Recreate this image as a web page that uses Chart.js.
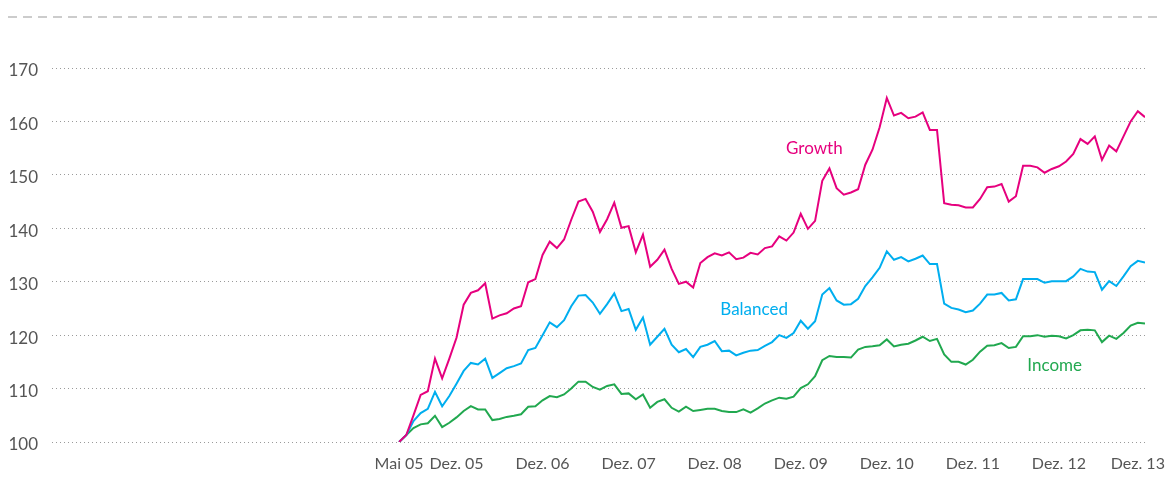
<!DOCTYPE html>
<html>
<head>
<meta charset="utf-8">
<script src="https://cdn.jsdelivr.net/npm/chart.js@4/dist/chart.umd.min.js"></script>
<style>
  html, body { margin: 0; padding: 0; background: #fff; }
  #wrap { position: relative; width: 1166px; height: 493px; }
  #topline {
    position: absolute; left: 8px; top: 16px; width: 1152px; height: 2px;
    background: repeating-linear-gradient(to right, #cccccc 0 9px, transparent 9px 15px);
  }
</style>
</head>
<body>
<div id="wrap">
  <div id="topline"></div>
  <canvas id="lineChart" width="1166" height="493"></canvas>
</div>
<script>
// month-end index values, Apr 05 = 100
var growth = [100, 101.3, 105, 108.8, 109.5, 115.6, 111.9, 115.6, 119.5, 125.7,
  127.9, 128.4, 129.7, 123.1, 123.7, 124.1, 125.0, 125.4, 129.9, 130.5,
  135.0, 137.5, 136.3, 137.9, 141.6, 145.0, 145.5, 143.1, 139.3, 141.7,
  144.8, 140.1, 140.4, 135.5, 138.8, 132.8, 134.1, 136.0, 132.4, 129.6,
  130.0, 128.9, 133.5, 134.6, 135.3, 134.9, 135.5, 134.2, 134.5, 135.4,
  135.1, 136.3, 136.6, 138.5, 137.7, 139.2, 142.7, 139.9, 141.4, 148.9,
  151.2, 147.5, 146.3, 146.7, 147.3, 151.9, 154.7, 158.9, 164.4, 161.1,
  161.6, 160.6, 160.9, 161.7, 158.4, 158.4, 144.7, 144.4, 144.3, 143.9,
  143.9, 145.5, 147.7, 147.8, 148.3, 145.0, 146.0, 151.7, 151.7, 151.4,
  150.4, 151.1, 151.6, 152.5, 153.9, 156.7, 155.8, 157.2, 152.8, 155.5,
  154.4, 157.2, 160.0, 161.9, 160.8];

var balanced = [100, 101.3, 103.9, 105.4, 106.2, 109.4, 106.7, 108.6, 110.9, 113.3,
  114.8, 114.5, 115.6, 112.0, 112.9, 113.8, 114.2, 114.7, 117.2, 117.6,
  120.0, 122.4, 121.5, 122.8, 125.4, 127.4, 127.5, 126.1, 124.0, 125.8,
  127.8, 124.5, 124.9, 121.0, 123.3, 118.2, 119.7, 121.2, 118.2, 116.8,
  117.4, 115.9, 117.8, 118.2, 118.9, 117.0, 117.1, 116.2, 116.7, 117.1,
  117.2, 118.0, 118.7, 120.0, 119.5, 120.4, 122.7, 121.2, 122.6, 127.6,
  128.8, 126.5, 125.7, 125.8, 126.8, 129.2, 130.8, 132.6, 135.7, 134.1,
  134.6, 133.8, 134.3, 134.9, 133.3, 133.3, 125.9, 125.1, 124.8, 124.3,
  124.6, 125.9, 127.6, 127.6, 127.9, 126.5, 126.7, 130.5, 130.5, 130.5,
  129.8, 130.1, 130.1, 130.1, 131.0, 132.4, 131.9, 131.8, 128.5, 130.1,
  129.2, 131.0, 132.9, 133.9, 133.6];

var income = [100, 101.3, 102.6, 103.3, 103.5, 104.9, 102.8, 103.6, 104.6, 105.8,
  106.7, 106.1, 106.1, 104.1, 104.3, 104.7, 104.9, 105.2, 106.6, 106.7,
  107.8, 108.6, 108.4, 108.9, 110.0, 111.3, 111.3, 110.3, 109.8, 110.5,
  110.8, 109.0, 109.1, 108.0, 108.9, 106.4, 107.5, 108.0, 106.4, 105.7,
  106.6, 105.8, 106.0, 106.2, 106.2, 105.8, 105.6, 105.6, 106.1, 105.5,
  106.3, 107.2, 107.8, 108.3, 108.1, 108.5, 110.1, 110.8, 112.3, 115.3,
  116.1, 115.9, 115.9, 115.8, 117.3, 117.8, 117.9, 118.1, 119.2, 117.9,
  118.2, 118.4, 119.0, 119.7, 118.9, 119.3, 116.4, 115.0, 115.0, 114.5,
  115.4, 116.9, 118.0, 118.1, 118.5, 117.6, 117.8, 119.8, 119.8, 120.0,
  119.7, 119.9, 119.8, 119.4, 120.0, 120.9, 121.0, 120.9, 118.7, 119.9,
  119.3, 120.4, 121.8, 122.3, 122.2];

var xTickLabels = ["Mai 05", "Dez. 05", "Dez. 06", "Dez. 07", "Dez. 08",
  "Dez. 09", "Dez. 10", "Dez. 11", "Dez. 12", "Dez. 13"];
var xTickMonths = [0, 8, 20, 32, 44, 56, 68, 80, 92, 103];
var yTicks = [100, 110, 120, 130, 140, 150, 160, 170];

var colGrowth = "#e6007e", colBalanced = "#00aeef", colIncome = "#21a84f";

function toPoints(arr) {
  return arr.map(function(v, i) { return {x: i, y: v}; });
}

// series names written next to the lines
var seriesLabels = {
  id: 'seriesLabels',
  afterDatasetsDraw: function(chart) {
    var ctx = chart.ctx, xs = chart.scales.x, ys = chart.scales.y;
    var items = [
      {text: "Growth", x: 57.9, y: 155.0, color: colGrowth},
      {text: "Balanced", x: 49.5, y: 124.8, color: colBalanced},
      {text: "Income", x: 91.4, y: 114.4, color: colIncome}
    ];
    ctx.save();
    ctx.font = "17px Lato";
    ctx.textAlign = "center";
    ctx.textBaseline = "middle";
    items.forEach(function(it) {
      ctx.fillStyle = it.color;
      ctx.fillText(it.text, xs.getPixelForValue(it.x), ys.getPixelForValue(it.y));
    });
    ctx.restore();
  }
};

var ctx = document.getElementById("lineChart");
var lineChart = new Chart(ctx, {
  type: 'line',
  data: {
    datasets: [{
      label: "Growth",
      data: toPoints(growth),
      borderColor: colGrowth,
      borderWidth: 2,
      pointRadius: 0,
      tension: 0
    }, {
      label: "Balanced",
      data: toPoints(balanced),
      borderColor: colBalanced,
      borderWidth: 2,
      pointRadius: 0,
      tension: 0
    }, {
      label: "Income",
      data: toPoints(income),
      borderColor: colIncome,
      borderWidth: 2,
      pointRadius: 0,
      tension: 0
    }]
  },
  options: {
    responsive: false,
    animation: false,
    layout: { padding: { left: 10, right: 21, top: 68, bottom: 21 } },
    plugins: {
      legend: { display: false },
      tooltip: { enabled: false }
    },
    scales: {
      x: {
        type: 'linear',
        min: -48.4,
        max: 104,
        grid: { display: false, drawTicks: false },
        border: { display: false },
        afterBuildTicks: function(axis) {
          axis.ticks = xTickMonths.map(function(m) { return {value: m}; });
        },
        afterFit: function(axis) {
          axis.height = 30;
          axis.paddingLeft = 0;
          axis.paddingRight = 0;
        },
        ticks: {
          autoSkip: false,
          maxRotation: 0,
          padding: 12,
          color: "#555",
          font: { family: "Lato", size: 16 },
          callback: function(value) {
            var k = xTickMonths.indexOf(value);
            return k >= 0 ? xTickLabels[k] : "";
          }
        }
      },
      y: {
        min: 100,
        max: 170,
        afterBuildTicks: function(axis) {
          axis.ticks = yTicks.map(function(v) { return {value: v}; });
        },
        afterFit: function(axis) {
          axis.width = 42;
          axis.paddingTop = 0;
          axis.paddingBottom = 0;
        },
        grid: { color: "#9a9a9a", lineWidth: 1, drawTicks: false },
        border: { display: false, dash: [1, 3] },
        ticks: {
          padding: 14,
          labelOffset: 3,
          color: "#555",
          font: { family: "Lato", size: 17 }
        }
      }
    }
  },
  plugins: [seriesLabels]
});
</script>
</body>
</html>
